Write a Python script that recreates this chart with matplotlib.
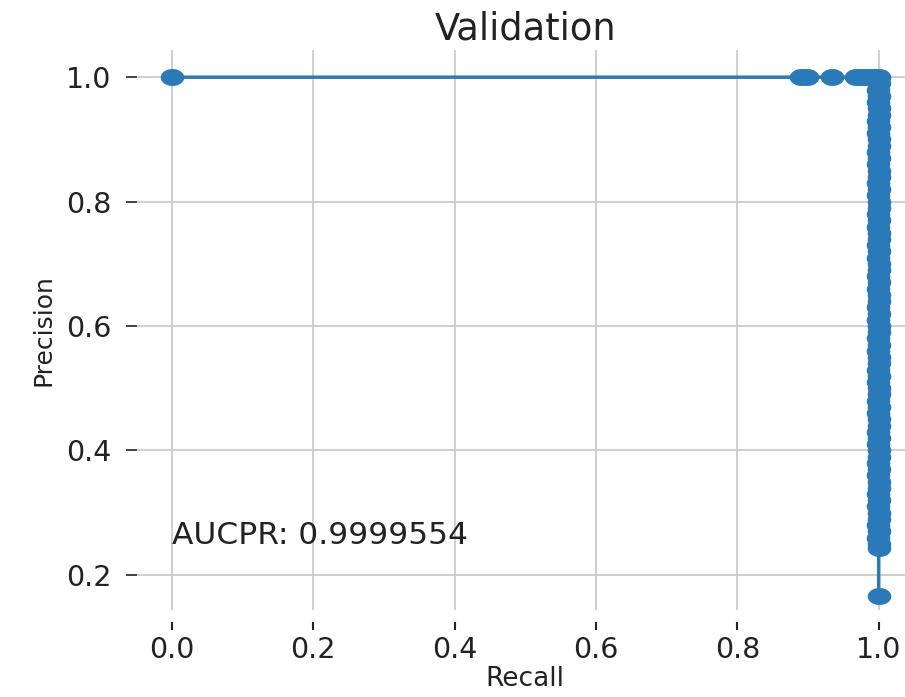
import numpy as np
import matplotlib.pyplot as plt
from matplotlib.path import Path

# precision-recall points
recall = [0.0, 0.890, 0.898, 0.934, 0.968, 0.975, 0.982, 0.989, 0.995, 1.0,
          1.0, 0.999, 1.0, 0.999, 1.0, 1.0, 0.999, 1.0, 0.999, 1.0,
          1.0, 0.999, 1.0, 0.999, 1.0, 1.0, 0.999, 1.0, 0.999, 1.0,
          1.0, 0.999, 1.0, 0.999, 1.0, 1.0, 0.999, 1.0, 0.999, 1.0,
          1.0, 0.999, 1.0, 0.999, 1.0, 1.0, 0.999, 1.0, 0.999, 1.0,
          1.0, 0.999, 1.0, 0.999, 1.0, 1.0, 0.999, 1.0, 0.999, 1.0,
          1.0, 0.999, 1.0, 0.999, 1.0, 1.0, 0.999, 1.0, 0.999, 1.0,
          1.0, 0.999, 1.0, 0.999, 1.0, 1.0, 0.999, 1.0, 0.999, 1.0,
          1.0, 0.999, 1.0, 0.999, 1.0, 1.0, 1.0]
precision = [1.0, 1.0, 1.0, 1.0, 1.0, 1.0, 1.0, 1.0, 1.0, 1.0,
             0.99, 0.98, 0.97, 0.96, 0.95, 0.94, 0.93, 0.92, 0.91, 0.90,
             0.89, 0.88, 0.87, 0.86, 0.85, 0.84, 0.83, 0.82, 0.81, 0.80,
             0.79, 0.78, 0.77, 0.76, 0.75, 0.74, 0.73, 0.72, 0.71, 0.70,
             0.69, 0.68, 0.67, 0.66, 0.65, 0.64, 0.63, 0.62, 0.61, 0.60,
             0.59, 0.58, 0.57, 0.56, 0.55, 0.54, 0.53, 0.52, 0.51, 0.50,
             0.49, 0.48, 0.47, 0.46, 0.45, 0.44, 0.43, 0.42, 0.41, 0.40,
             0.39, 0.38, 0.37, 0.36, 0.35, 0.34, 0.33, 0.32, 0.31, 0.30,
             0.29, 0.28, 0.27, 0.26, 0.25, 0.243, 0.166]
aucpr = 0.9999554

xticks = [0.0, 0.2, 0.4, 0.6, 0.8, 1.0]
yticks = [0.2, 0.4, 0.6, 0.8, 1.0]

blue = '#2a7ab9'

# the reference is stretched sideways, so the dots are ellipses
t = np.linspace(0, 2 * np.pi, 40)
ellipse = Path(np.column_stack([np.cos(t), 0.72 * np.sin(t)]), closed=True)

fig = plt.figure(figsize=(9.05, 6.97), dpi=100)
ax = fig.add_axes([0.151, 0.125, 0.859, 0.803])

ax.plot(recall, precision, color=blue, lw=2.5, marker=ellipse,
        markersize=17, markeredgewidth=0, zorder=3)
ax.text(0.0, 0.25, f'AUCPR: {aucpr}', fontsize=22.5, color='#222222')

ax.set_xlim(-0.05, 1.05)
ax.set_ylim(0.1438, 1.0434)
ax.set_xticks(xticks)
ax.set_yticks(yticks)
ax.grid(True, color='#cccccc', lw=1.3)
ax.set_axisbelow(True)

for s in ax.spines.values():
    s.set_visible(False)
ax.spines['bottom'].set_position(('outward', 9))

ax.tick_params(axis='x', length=6, width=1.5, pad=4, labelsize=20.5, colors='#222222')
ax.tick_params(axis='y', length=8, width=1.2, pad=10, labelsize=20.5, colors='#222222')

ax.set_title('Validation', fontsize=26.5, pad=8, color='#222222')
ax.set_xlabel('Recall', fontsize=19, labelpad=1, color='#222222')
ax.set_ylabel('Precision', fontsize=18, labelpad=8, color='#222222')

fig.savefig('out.png', dpi=100)
